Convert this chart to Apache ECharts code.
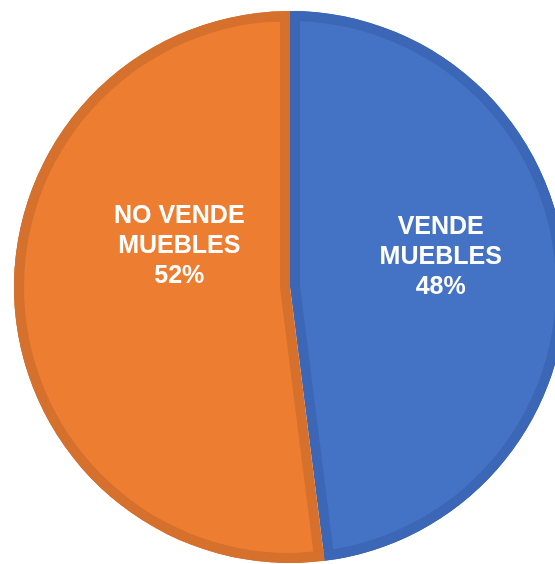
<!DOCTYPE html>
<html>
<head>
<meta charset="utf-8">
<script src="https://cdn.jsdelivr.net/npm/echarts@6/dist/echarts.min.js"></script>
<style>
  html, body { margin: 0; padding: 0; background: #fff; }
  #chart { width: 555px; height: 564px; }
</style>
</head>
<body>
<div id="chart"></div>
<script>
/* Pie: furniture sellers vs non-sellers, Excel-like inner borders. */
const categories = ["VENDE\nMUEBLES", "NO VENDE\nMUEBLES"];
const shares = [48, 52];
const fillColors = ["#4472C4", "#ED7D31"];
const edgeColors = ["#3C66B6", "#D6702D"];

const CX = 290, CY = 287, R = 276, EDGE = 10;
const total = shares.reduce((a, b) => a + b, 0);

// each slice's light fill is drawn as its own pie, apex moved along the bisector
// so the radial edges sit EDGE px inside the dividers
let acc = 0;
const fillSeries = shares.map((v, i) => {
  const span = v / total * Math.PI * 2;
  const mid = acc + span / 2;
  acc += span;
  const off = EDGE / Math.sin(span / 2);
  const c = [CX + off * Math.sin(mid), CY - off * Math.cos(mid)];
  return {
    type: "pie", silent: true, center: c, radius: R - EDGE,
    startAngle: 90, clockwise: true, label: { show: false }, labelLine: { show: false },
    emphasis: { disabled: true },
    data: shares.map((s, j) => ({ value: s, name: categories[j],
      itemStyle: { color: j === i ? fillColors[j] : "transparent" } })),
  };
});

const baseData = () => shares.map((s, j) => ({ value: s, name: categories[j], itemStyle: { color: edgeColors[j] } }));

echarts.init(document.getElementById("chart")).setOption({
  animation: false,
  series: [
    { type: "pie", silent: true, center: [CX, CY], radius: R, startAngle: 90,
      label: { show: false }, labelLine: { show: false }, emphasis: { disabled: true }, data: baseData() },
    ...fillSeries,
    { type: "pie", silent: true, center: [CX, CY], radius: [R - EDGE, R], startAngle: 90,
      label: { show: false }, labelLine: { show: false }, emphasis: { disabled: true }, data: baseData() },
    { type: "pie", silent: true, center: [CX, CY], radius: R, startAngle: 90,
      itemStyle: { color: "transparent" }, emphasis: { disabled: true },
      label: { show: true, position: "inside", color: "#fff", fontFamily: "Liberation Sans, Arial",
        fontWeight: "bold", fontSize: 25, lineHeight: 30, align: "center",
        formatter: (p) => `${p.name}\n${p.percent}%` },
      labelLine: { show: false },
      labelLayout: (p) => p.dataIndex === 0 ? { dx: 10, dy: -21 } : { dx: 30, dy: -50 },
      data: shares.map((s, j) => ({ value: s, name: categories[j] })) },
  ],
});
</script>
</body>
</html>
